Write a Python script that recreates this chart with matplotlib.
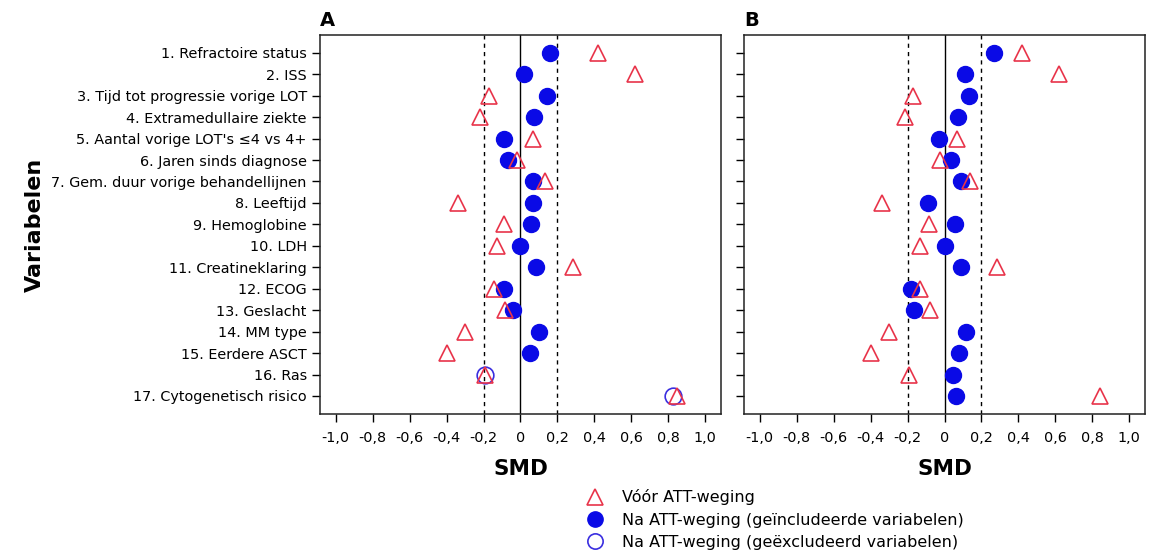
import numpy as np
import matplotlib.pyplot as plt
from matplotlib.lines import Line2D
from matplotlib.ticker import FixedLocator, FuncFormatter

# Variabelen (row labels)
variabelen = ["1. Refractoire status", "2. ISS", "3. Tijd tot progressie vorige LOT",
              "4. Extramedullaire ziekte", "5. Aantal vorige LOT's \u22644 vs 4+",
              "6. Jaren sinds diagnose", "7. Gem. duur vorige behandellijnen",
              "8. Leeftijd", "9. Hemoglobine", "10. LDH", "11. Creatineklaring",
              "12. ECOG", "13. Geslacht", "14. MM type", "15. Eerdere ASCT",
              "16. Ras", "17. Cytogenetisch risico"]

# Panel A: SMD voor / na ATT-weging (None = not in that group)
voor_A = [0.42, 0.62, -0.17, -0.22, 0.07, -0.02, 0.135, -0.34, -0.09, -0.125,
          0.285, -0.145, -0.085, -0.30, -0.40, -0.19, 0.845]
na_incl_A = [0.16, 0.02, 0.145, 0.075, -0.09, -0.065, 0.07, 0.07, 0.055, 0.0,
             0.085, -0.09, -0.04, 0.10, 0.05, None, None]
na_excl_A = [None] * 15 + [-0.19, 0.825]

# Panel B
voor_B = [0.42, 0.62, -0.17, -0.215, 0.07, -0.025, 0.14, -0.34, -0.085, -0.13,
          0.285, -0.135, -0.08, -0.30, -0.40, -0.19, 0.84]
na_incl_B = [0.27, 0.11, 0.13, 0.075, -0.03, 0.035, 0.09, -0.09, 0.055, 0.0,
             0.09, -0.18, -0.165, 0.115, 0.08, 0.045, 0.06]

xticks = [-1.0, -0.8, -0.6, -0.4, -0.2, 0, 0.2, 0.4, 0.6, 0.8, 1.0]

red = '#e8344a'
blue = '#0a0ae6'
purple = '#3a2ee0'

fig = plt.figure(figsize=(11.51, 5.56), dpi=100)
axA = fig.add_axes([0.278, 0.2554, 0.3484, 0.6817])
axB = fig.add_axes([0.6464, 0.2554, 0.3484, 0.6817])

ypos = np.arange(1, len(variabelen) + 1)


def fmt(v, pos):
    if abs(v) < 1e-9:
        return '0'
    return f'{v:.1f}'.replace('.', ',')


def draw(ax, voor, incl, excl, label):
    ax.axvline(0, color='black', lw=1.0, zorder=1)
    ax.axvline(-0.2, color='black', lw=1.0, ls=(0, (3, 3)), zorder=1)
    ax.axvline(0.2, color='black', lw=1.0, ls=(0, (3, 3)), zorder=1)
    yi = [y for y, v in zip(ypos, incl) if v is not None]
    xi = [v for v in incl if v is not None]
    ax.plot(xi, yi, 'o', ms=11.5, color=blue, mec=blue, zorder=2)
    if excl is not None:
        ye = [y for y, v in zip(ypos, excl) if v is not None]
        xe = [v for v in excl if v is not None]
        ax.plot(xe, ye, 'o', ms=12, mfc='none', mec=purple, mew=1.2, zorder=3)
    ax.plot(voor, ypos, '^', ms=11.5, mfc='none', mec=red, mew=1.2, zorder=4)
    ax.set_xlim(-1.085, 1.085)
    ax.set_ylim(17.84, 0.17)
    ax.xaxis.set_major_locator(FixedLocator(xticks))
    ax.xaxis.set_major_formatter(FuncFormatter(fmt))
    ax.set_yticks(ypos)
    ax.tick_params(axis='both', direction='out', length=6, width=1, labelsize=10.4,
                   colors='black')
    ax.tick_params(axis='x', pad=6)
    for s in ax.spines.values():
        s.set_color('#222222')
        s.set_linewidth(1.1)
    ax.set_xlabel('SMD', fontsize=15.5, fontweight='bold', labelpad=10)
    ax.text(0.0, 1.012, label, transform=ax.transAxes, fontsize=14,
            fontweight='bold', ha='left', va='bottom')


draw(axA, voor_A, na_incl_A, na_excl_A, 'A')
draw(axB, voor_B, na_incl_B, None, 'B')

axA.set_yticklabels(variabelen)
axB.set_yticklabels([])
axA.set_ylabel('Variabelen', fontsize=16, fontweight='bold', labelpad=5)

handles = [
    Line2D([], [], ls='none', marker='^', ms=11, mfc='none', mec=red, mew=1.2),
    Line2D([], [], ls='none', marker='o', ms=11, color=blue),
    Line2D([], [], ls='none', marker='o', ms=11, mfc='none', mec=purple, mew=1.2),
]
labels = ['V\u00f3\u00f3r ATT-weging',
          'Na ATT-weging (ge\u00efncludeerde variabelen)',
          'Na ATT-weging (ge\u00ebxcludeerd variabelen)']
fig.legend(handles, labels, loc='upper left', bbox_to_anchor=(0.503, 0.134),
           frameon=False, fontsize=11.5, handlelength=1.0, handletextpad=1.2,
           labelspacing=0.45, borderpad=0)

fig.savefig('out.png', dpi=100)
